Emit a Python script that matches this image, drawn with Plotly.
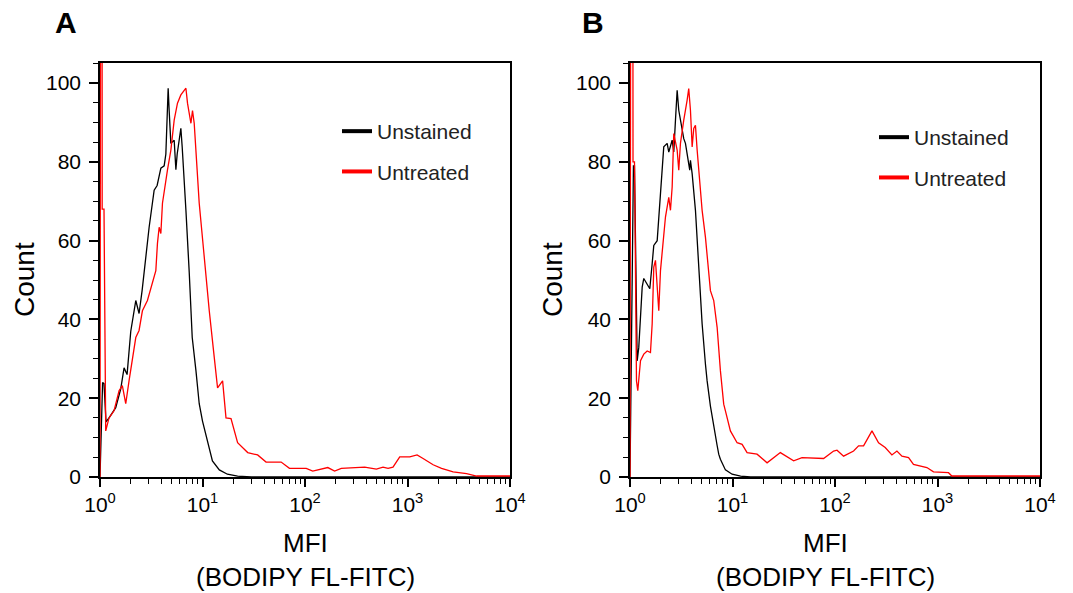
import plotly.graph_objects as go

# ---------------- data ----------------
series_names = ["Unstained", "Untreated"]
series_colors = ["black", "red"]

# Panel A
a_unstained_mfi = [1.0, 1.06, 1.094, 1.145, 1.225, 1.424, 1.594, 1.717, 1.837, 1.996, 2.234,
                   2.406, 2.575, 2.797, 3.015, 3.375, 3.608, 3.924, 4.227, 4.391, 4.624, 4.73,
                   4.91, 5.293, 5.5, 5.663, 6.15, 6.34, 6.63, 6.89, 7.42, 7.94, 8.63, 9.29,
                   10.0, 11.2, 12.5, 14.6, 17.5, 22.0, 30.0, 100.0, 1000.0, 10000.0]
a_unstained_count = [0, 24, 23.7, 14, 15, 17.6, 22.4, 27.7, 26, 37, 44.8,
                     41.5, 47.3, 55.7, 63.4, 72.8, 74, 78.4, 79, 82, 98.7, 93,
                     84.7, 85.5, 78, 82, 88.5, 83.7, 73.5, 67.7, 52, 35.4, 27, 18.6,
                     14.2, 9.2, 4.1, 1.8, 0.7, 0.2, 0, 0, 0, 0]

a_untreated_mfi = [1.0, 1.04, 1.05, 1.094, 1.137, 1.225, 1.37, 1.534, 1.652, 1.783, 1.92,
                   2.07, 2.234, 2.405, 2.593, 2.902, 3.248, 3.505, 3.635, 3.776, 3.923, 4.068,
                   4.55, 4.913, 5.293, 5.70, 6.15, 6.63, 6.89, 7.14, 7.42, 7.71, 7.99, 8.30,
                   9.29, 10.4, 11.64, 13.03, 14.03, 15.71, 16.95, 18.97, 22.0, 27.6, 34.5,
                   41.7, 58.5, 70.5, 102.8, 119, 138.6, 167, 194.4, 226, 382, 497, 577, 646,
                   722, 840, 1052, 1240, 1419, 1778, 2148, 2788, 3770, 4723, 10000]
a_untreated_count = [0, 400, 68, 68, 11.7, 15, 16.8, 21.9, 23.2, 18.6, 24.4,
                     30.3, 35.4, 37.2, 42.2, 44.8, 49, 52.4, 59.3, 63.4, 61.8, 69.5,
                     77.9, 83, 90.6, 94.9, 97, 98.2, 98.7, 94.9, 92.4, 89.8, 93, 89.8,
                     69.5, 55.7, 42.2, 30.3, 22.6, 24.4, 15, 14.8, 8.7, 6.2, 5.6,
                     3.8, 3.8, 2.2, 2.2, 1.5, 1.9, 2.4, 1.5, 2.2, 2.5, 2.0, 2.5, 2.2,
                     2.5, 5.1, 5.1, 5.6, 4.7, 3.1, 2.2, 1.3, 0.85, 0.25, 0.25]

# Panel B
b_unstained_mfi = [1.0, 1.08, 1.106, 1.175, 1.218, 1.266, 1.315, 1.363, 1.471, 1.56, 1.646,
                   1.706, 1.842, 1.983, 2.135, 2.305, 2.389, 2.578, 2.673, 2.777, 2.884, 2.99,
                   3.106, 3.227, 3.345, 3.475, 3.61, 3.742, 3.827, 3.888, 4.04, 4.35, 4.684,
                   5.054, 5.444, 5.655, 6.09, 6.56, 7.08, 7.34, 7.62, 8.53, 9.91, 12.0, 15.0,
                   10000.0]
b_unstained_count = [0, 79, 79, 29.5, 32.9, 40.5, 48.2, 50.4, 49.1, 47.8, 54.2,
                     58.8, 60, 71, 83.8, 84.7, 82.5, 85.5, 82.5, 90.6, 98.2, 93.1,
                     90.6, 88, 85.9, 84.7, 82.1, 78.7, 77.9, 80.4, 77, 67.7, 54.1,
                     38.9, 28.7, 24.4, 18, 12.5, 8, 5.8, 4.5, 1.8, 0.7, 0.2, 0,
                     0]

b_untreated_mfi = [1.0, 1.05, 1.07, 1.106, 1.157, 1.191, 1.266, 1.363, 1.471, 1.584, 1.646,
                   1.706, 1.772, 1.842, 1.909, 1.983, 2.06, 2.218, 2.389, 2.482, 2.578, 2.673,
                   2.884, 2.99, 3.106, 3.227, 3.345, 3.61, 3.742, 3.888, 4.04, 4.187, 4.35,
                   4.519, 4.684, 5.054, 5.444, 6.09, 6.56, 7.08, 7.62, 8.21, 8.53, 9.54,
                   11.09, 12.41, 13.88, 17.37, 21.74, 29.3, 39.5, 47.7, 77.4, 96.9, 104.6,
                   121.3, 151.8, 169.8, 190, 229.5, 266, 309, 359, 402, 450, 522, 583,
                   704, 788, 914, 1280, 1380, 10000]
b_untreated_count = [0, 400, 80, 80, 24.4, 21.9, 29.5, 31.2, 32, 31.6, 38.9,
                     53.3, 55, 49, 42.2, 52.4, 57.5, 66, 71, 67.7, 73.6, 87.2,
                     83, 77.9, 84.7, 88, 90.6, 95.7, 98.6, 93.1, 83.8, 88.5, 89.3,
                     83, 77.9, 67.7, 60.9, 47.3, 44.8, 38, 27, 18.5, 16.8, 11.7,
                     8.7, 8.3, 6.2, 5.8, 3.6, 6.2, 4.1, 4.9, 4.7, 6.6, 6.8,
                     5.3, 6.6, 7.9, 7.9, 11.7, 8.7, 7.5, 5.6, 6.6, 5.3, 4.9, 3.2,
                     2.8, 2.4, 1.3, 1.1, 0.25, 0.25]

panel_letters = ["A", "B"]
x_major_vals = [1, 10, 100, 1000, 10000]
x_major_text = ["10<sup>0</sup>", "10<sup>1</sup>", "10<sup>2</sup>", "10<sup>3</sup>", "10<sup>4</sup>"]
x_minor_vals = [m * 10 ** e for e in range(4) for m in range(2, 10)]
y_tick_vals = [0, 20, 40, 60, 80, 100]
x_title = "MFI"
x_subtitle = "(BODIPY FL-FITC)"
y_title = "Count"

FONT = "Liberation Sans, Arial, sans-serif"

fig = go.Figure()

panels = [
    ("x", "y", "legend", [(a_unstained_mfi, a_unstained_count), (a_untreated_mfi, a_untreated_count)]),
    ("x2", "y2", "legend2", [(b_unstained_mfi, b_unstained_count), (b_untreated_mfi, b_untreated_count)]),
]

for xa, ya, lg, series in panels:
    for (xs, ys), name, col in zip(series, series_names, series_colors):
        fig.add_trace(go.Scatter(x=xs, y=ys, mode="lines", name=name,
                                 line=dict(color=col, width=1.3),
                                 xaxis=xa, yaxis=ya, showlegend=False, hoverinfo="skip"))
    # legend entries (thicker legend line)
    for i, (name, col) in enumerate(zip(series_names, series_colors)):
        fig.add_trace(go.Scatter(x=[None], y=[None], mode="lines", name=name,
                                 line=dict(color=col, width=4),
                                 xaxis=xa, yaxis=ya, legend=lg, legendgroup=f"{lg}_{i}",
                                 showlegend=True))

axis_common = dict(showline=True, linecolor="black", linewidth=1.5, mirror=True,
                   showgrid=False, zeroline=False, ticks="outside", tickcolor="black",
                   automargin=False,
                   tickfont=dict(family=FONT, size=21, color="black"))

xaxis_cfg = dict(axis_common, type="log", range=[0, 4], tickmode="array",
                 tickvals=x_major_vals, ticktext=x_major_text, ticklen=8, tickwidth=1.5,
                 minor=dict(tickmode="array", tickvals=x_minor_vals, ticks="outside",
                            ticklen=5, tickcolor="black", tickwidth=1.2))
yaxis_cfg = dict(axis_common, range=[0, 105.1], tickmode="array", tickvals=y_tick_vals,
                 ticklen=9, tickwidth=1.5, ticklabelstandoff=4,
                 minor=dict(dtick=5, ticks="outside", ticklen=5, tickcolor="black", tickwidth=1.2))

W, H = 1073, 593
legend_common = dict(font=dict(family=FONT, size=21, color="#222"), bgcolor="rgba(0,0,0,0)",
                     tracegroupgap=10, xanchor="left", yanchor="top", itemwidth=30)

fig.update_layout(
    width=W, height=H,
    margin=dict(l=0, r=0, t=0, b=0),
    paper_bgcolor="white", plot_bgcolor="white",
    xaxis=dict(xaxis_cfg, domain=[100 / W, 510 / W], anchor="y"),
    yaxis=dict(yaxis_cfg, domain=[116 / H, 530 / H], anchor="x"),
    xaxis2=dict(xaxis_cfg, domain=[630 / W, 1040 / W], anchor="y2"),
    yaxis2=dict(yaxis_cfg, domain=[116 / H, 530 / H], anchor="x2"),
    legend=dict(legend_common, x=337 / W, y=1 - 111 / H),
    legend2=dict(legend_common, x=874 / W, y=1 - 117 / H),
)

ann = []
for cx, letter in zip([66, 593], panel_letters):
    ann.append(dict(x=cx / W, y=1 - 22 / H, xref="paper", yref="paper", text=f"<b>{letter}</b>",
                    xanchor="center", yanchor="middle",
                    showarrow=False, font=dict(family=FONT, size=30, color="black")))
for cx in [25, 553]:
    ann.append(dict(x=cx / W, y=1 - 280 / H, xref="paper", yref="paper", text=y_title,
                    xanchor="center", yanchor="middle",
                    textangle=-90, showarrow=False, font=dict(family=FONT, size=28, color="black")))
for cx in [305, 825]:
    ann.append(dict(x=cx / W, y=1 - 543 / H, xref="paper", yref="paper", text=x_title,
                    xanchor="center", yanchor="middle",
                    showarrow=False, font=dict(family=FONT, size=26, color="black")))
    ann.append(dict(x=cx / W, y=1 - 577 / H, xref="paper", yref="paper", text=x_subtitle,
                    xanchor="center", yanchor="middle",
                    showarrow=False, font=dict(family=FONT, size=26, color="black")))
fig.update_layout(annotations=ann)

fig.write_html("out.html", config=dict(displayModeBar=False),
               post_script="document.body.style.margin='0';")
